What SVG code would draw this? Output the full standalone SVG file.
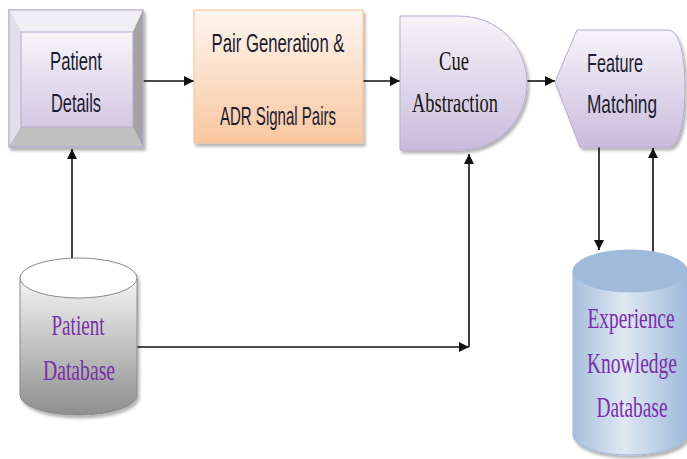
<svg xmlns="http://www.w3.org/2000/svg" width="687" height="459" viewBox="0 0 687 459">
<defs>
<style>
.sans{font-family:"Liberation Sans","Open Sans",sans-serif;fill:#1c1c30;font-size:25px;text-anchor:middle}
.serif{font-family:"Liberation Serif","DejaVu Serif",serif;fill:#1a1410;font-size:27px;text-anchor:middle}
.purp{font-family:"Liberation Serif","DejaVu Serif",serif;fill:#7a2fa8;font-size:29px;text-anchor:middle}
.purp2{font-family:"Liberation Serif","DejaVu Serif",serif;fill:#7a2fa8;font-size:20px;text-anchor:middle}
.ln{stroke:#111;stroke-width:1.6;fill:none}
</style>
<linearGradient id="lav" x1="0" y1="0" x2="0" y2="1"><stop offset="0" stop-color="#f6f4f9"/><stop offset="1" stop-color="#c9bcdc"/></linearGradient>
<linearGradient id="inner" x1="0" y1="0" x2="0" y2="1"><stop offset="0" stop-color="#f7f5fa"/><stop offset="1" stop-color="#d3c8e2"/></linearGradient>
<linearGradient id="org" x1="0" y1="0" x2="0" y2="1"><stop offset="0" stop-color="#fef6f0"/><stop offset="1" stop-color="#f9c7a0"/></linearGradient>
<linearGradient id="gray" x1="0" y1="0" x2="0" y2="1"><stop offset="0" stop-color="#f4f4f4"/><stop offset="1" stop-color="#8e8e8e"/></linearGradient>
<linearGradient id="blue" x1="0" y1="0" x2="1" y2="0"><stop offset="0" stop-color="#a7bfdd"/><stop offset="0.45" stop-color="#dfe8f3"/><stop offset="1" stop-color="#9fbadb"/></linearGradient>
<filter id="sh" x="-10%" y="-10%" width="130%" height="130%"><feDropShadow dx="2" dy="3" stdDeviation="1.5" flood-color="#000" flood-opacity="0.3"/></filter>
<marker id="ah" viewBox="0 0 10 10" refX="10" refY="5" markerWidth="11" markerHeight="10" markerUnits="userSpaceOnUse" orient="auto"><path d="M0,0 L10,5 L0,10 Z" fill="#111"/></marker>
</defs>

<g id="connectors">
<line class="ln" x1="143" y1="81" x2="194" y2="81" marker-end="url(#ah)"/>
<line class="ln" x1="363" y1="81" x2="400" y2="81" marker-end="url(#ah)"/>
<line class="ln" x1="527" y1="81" x2="555" y2="81" marker-end="url(#ah)"/>
<line class="ln" x1="72" y1="258" x2="72" y2="149" marker-end="url(#ah)"/>
<line class="ln" x1="137" y1="347" x2="469" y2="347" marker-end="url(#ah)"/>
<line class="ln" x1="469" y1="347" x2="469" y2="154" marker-end="url(#ah)"/>
<line class="ln" x1="599" y1="147" x2="599" y2="250" marker-end="url(#ah)"/>
<line class="ln" x1="653" y1="252" x2="653" y2="148" marker-end="url(#ah)"/>
</g>

<g id="patient-details">
<g filter="url(#sh)">
<rect x="9" y="10" width="134" height="137" fill="#bdbdbd" stroke="#b7a9cf" stroke-width="1"/>
<polygon points="9,10 143,10 133,32 21,32" fill="#f1eff6"/>
<polygon points="9,10 21,32 21,127 9,147" fill="#e3deec"/>
<polygon points="143,10 143,147 133,127 133,32" fill="#a3a3a3"/>
<polygon points="9,147 143,147 133,127 21,127" fill="#c0c0c0"/>
<rect x="21" y="32" width="112" height="95" fill="url(#inner)" stroke="#b7a9cf" stroke-width="1"/>
<rect x="9" y="10" width="134" height="137" fill="none" stroke="#b7a9cf" stroke-width="1"/>
</g>
<text class="sans" x="76" y="70" textLength="52" lengthAdjust="spacingAndGlyphs">Patient</text>
<text class="sans" x="76" y="112" textLength="50" lengthAdjust="spacingAndGlyphs">Details</text>
</g>

<g id="pair-generation">
<rect x="194" y="10" width="169" height="133" fill="url(#org)" stroke="#f5bf95" stroke-width="1" filter="url(#sh)"/>
<text class="sans" x="278" y="52" textLength="133" lengthAdjust="spacingAndGlyphs">Pair Generation &amp;</text>
<text class="sans" x="278" y="125" textLength="116" lengthAdjust="spacingAndGlyphs">ADR Signal Pairs</text>
</g>

<g id="cue-abstraction">
<path d="M400,16 H458 C500,16 527,48 527,83 C527,118 500,150 458,150 H400 Z" fill="url(#lav)" stroke="#b9aad2" stroke-width="1" filter="url(#sh)"/>
<text class="serif" x="454" y="70" textLength="30" lengthAdjust="spacingAndGlyphs">Cue</text>
<text class="serif" x="455" y="112" textLength="86" lengthAdjust="spacingAndGlyphs">Abstraction</text>
</g>

<g id="feature-matching">
<path d="M555,82 L577,30 H668 C680,30 685,58 685,88 C685,118 680,147 668,147 H580 Z" fill="url(#lav)" stroke="#b9aad2" stroke-width="1" filter="url(#sh)"/>
<text class="sans" x="615" y="72" textLength="56" lengthAdjust="spacingAndGlyphs">Feature</text>
<text class="sans" x="622" y="113" textLength="70" lengthAdjust="spacingAndGlyphs">Matching</text>
</g>

<g id="patient-database">
<g filter="url(#sh)">
<path d="M20,278 V395 A58.5,20 0 0 0 137,395 V278 Z" fill="url(#gray)" stroke="#8a8a8a" stroke-width="1"/>
<ellipse cx="78.5" cy="278" rx="58.5" ry="20" fill="#ffffff" stroke="#8a8a8a" stroke-width="1"/>
</g>
<text class="purp" x="78" y="335" textLength="53" lengthAdjust="spacingAndGlyphs">Patient</text>
<text class="purp" x="79" y="380" textLength="72" lengthAdjust="spacingAndGlyphs">Database</text>
</g>

<g id="experience-database">
<g filter="url(#sh)">
<path d="M573,271 V435 A57,20 0 0 0 687,435 V271 Z" fill="url(#blue)" stroke="#9fb9da" stroke-width="1"/>
<ellipse cx="630" cy="271" rx="57" ry="21" fill="#9fbadb" stroke="#9fb9da" stroke-width="1"/>
</g>
<text class="purp2" transform="translate(631,328) scale(1,1.45)" textLength="87" lengthAdjust="spacingAndGlyphs">Experience</text>
<text class="purp2" transform="translate(632,373) scale(1,1.45)" textLength="90" lengthAdjust="spacingAndGlyphs">Knowledge</text>
<text class="purp2" transform="translate(632,417) scale(1,1.45)" textLength="71" lengthAdjust="spacingAndGlyphs">Database</text>
</g>
</svg>
